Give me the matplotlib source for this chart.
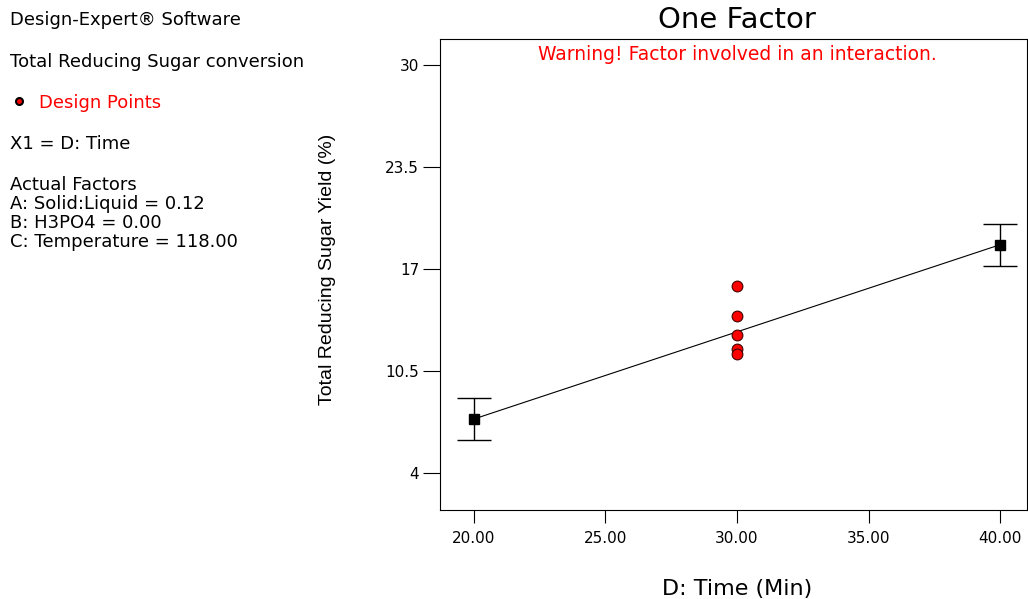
import matplotlib
matplotlib.use("Agg")
import matplotlib.pyplot as plt
from matplotlib.lines import Line2D

plt.rcParams['font.family'] = ['DejaVu Sans']

# Data
pred_x = [20.0, 40.0]
pred_y = [7.44, 18.55]
pred_err = [1.34, 1.34]
design_x = [30, 30, 30, 30, 30]
design_y = [15.92, 14.0, 12.8, 11.9, 11.58]
xticks = [20, 25, 30, 35, 40]
xticklabels = ["20.00", "25.00", "30.00", "35.00", "40.00"]
yticks = [4, 10.5, 17, 23.5, 30]
yticklabels = ["4", "10.5", "17", "23.5", "30"]

W, H = 1028, 599
fig = plt.figure(figsize=(W / 100, H / 100), dpi=100)
ax = fig.add_axes([440 / W, 1 - 510 / H, (1027 - 440) / W, (510 - 39) / H])

ax.plot(pred_x, pred_y, color='black', lw=0.8, zorder=2)
ax.errorbar(pred_x, pred_y, yerr=pred_err, fmt='s', color='black', ms=7,
            capsize=12, elinewidth=1.0, capthick=1.0, zorder=3)
ax.scatter(design_x, design_y, s=60, facecolor='red', edgecolor='#400000',
           linewidths=0.8, zorder=4)

ax.set_xlim(18.71, 41.02)
ax.set_ylim(1.64, 31.66)
ax.set_xticks(xticks)
ax.set_xticklabels(xticklabels, fontsize=11)
ax.set_yticks(yticks)
ax.set_yticklabels(yticklabels, fontsize=11)
ax.tick_params(axis='y', direction='out', length=12, width=0.8, pad=3)
ax.tick_params(axis='x', direction='out', length=9, width=0.8, pad=6)
for s in ax.spines.values():
    s.set_linewidth(0.8)

fig.text(737 / W, 1 - 20 / H, "One Factor", ha='center', va='center', fontsize=21)
fig.text(737 / W, 1 - 55 / H, "Warning! Factor involved in an interaction.",
         ha='center', va='center', color='red', fontsize=13.5)
fig.text(737 / W, 1 - 589 / H, "D: Time (Min)", ha='center', va='center', fontsize=16)
fig.text(328 / W, 1 - 269 / H, "Total Reducing Sugar Yield (%)", ha='center', va='center',
         rotation=90, fontsize=14, family=['Liberation Sans'])

left_lines = [
    (20, "Design-Expert® Software", 'black'),
    (62, "Total Reducing Sugar conversion", 'black'),
    (144, "X1 = D: Time", 'black'),
    (185, "Actual Factors", 'black'),
    (204, "A: Solid:Liquid = 0.12", 'black'),
    (223, "B: H3PO4 = 0.00", 'black'),
    (242, "C: Temperature = 118.00", 'black'),
]
for y, t, c in left_lines:
    fig.text(10 / W, 1 - y / H, t, ha='left', va='center', fontsize=13, color=c)
fig.text(39 / W, 1 - 103 / H, "Design Points", ha='left', va='center', fontsize=13, color='red')
fig.add_artist(Line2D([19 / W], [1 - 101 / H], marker='o', ms=5, markerfacecolor='red',
                      markeredgecolor='black', markeredgewidth=1.5, transform=fig.transFigure))

fig.savefig("out.png", dpi=100)
